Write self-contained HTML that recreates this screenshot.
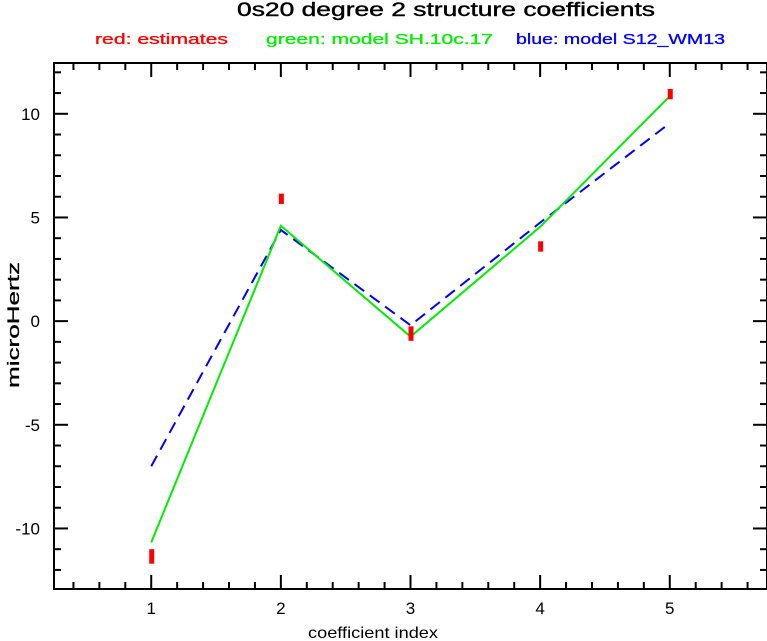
<!DOCTYPE html>
<html><head><meta charset="utf-8"><style>
body{margin:0;background:#fff;}
svg{display:block;font-family:"Liberation Sans",sans-serif;}
</style></head><body>
<svg id="chart" width="767" height="641">
<text x="237" y="16" font-size="19" textLength="418" lengthAdjust="spacingAndGlyphs" font-family="Liberation Sans, sans-serif" stroke="#000" stroke-width="0.4">0s20 degree 2 structure coefficients</text>
<text x="95" y="44" font-size="15" fill="#ff0000" textLength="133" lengthAdjust="spacingAndGlyphs" stroke="#ff0000" stroke-width="0.3">red: estimates</text>
<text x="266" y="44" font-size="15" fill="#00ee00" textLength="227" lengthAdjust="spacingAndGlyphs" stroke="#00ee00" stroke-width="0.3">green: model SH.10c.17</text>
<text x="516" y="44" font-size="15" fill="#0000ff" textLength="209" lengthAdjust="spacingAndGlyphs" stroke="#0000ff" stroke-width="0.3">blue: model S12_WM13</text>
<text x="308" y="638" font-size="16" textLength="130" lengthAdjust="spacingAndGlyphs">coefficient index</text>
<text transform="translate(19,388) rotate(-90)" font-size="17" textLength="126" lengthAdjust="spacingAndGlyphs" stroke="#000" stroke-width="0.3">microHertz</text>
<g id="axes"></g>
<g id="series"></g>
<rect x="54" y="63" width="713" height="526" fill="none" stroke="#000" stroke-width="2"/>
</svg>
<script>
const categories=[1,2,3,4,5];
const estimates=[-11.35,5.9,-0.6,3.6,10.95];
const estErr=[0.35,0.25,0.35,0.25,0.25];
const greenModel=[-10.67,4.6,-0.75,4.55,10.85];
const blueModel=[-7.0,4.4,-0.2,4.75,9.55];
const yTicks=[-10,-5,0,5,10];
const xTicks=[1,2,3,4,5];
const X0=54,X1=767,Y0=63,Y1=589,xmin=0.25,xmax=5.75,ymin=-12.92,ymax=12.45;
const sx=v=>X0+(v-xmin)/(xmax-xmin)*(X1-X0);
const sy=v=>Y1-(v-ymin)/(ymax-ymin)*(Y1-Y0);
const NS='http://www.w3.org/2000/svg';
const ax=document.getElementById('axes'),se=document.getElementById('series');
function mk(t,a,p){const e=document.createElementNS(NS,t);for(const k in a)e.setAttribute(k,a[k]);p.appendChild(e);return e;}
for(let v=Math.ceil(ymin);v<=ymax;v++){const y=sy(v);const L=v%5===0?14:7;
const t1=mk('line',{x1:X0,x2:X0+L,y1:y,y2:y,stroke:'#000','stroke-width':2},ax);


const t2=mk('line',{x1:X1,x2:X1-L,y1:y,y2:y,stroke:'#000','stroke-width':2},ax);

}
for(let i=Math.ceil(xmin*5);i<=xmax*5;i++){const v=i/5,x=sx(v);const L=i%5===0?14:7;
const t1=mk('line',{x1:x,x2:x,y1:Y1,y2:Y1-L,stroke:'#000','stroke-width':2},ax);


const t2=mk('line',{x1:x,x2:x,y1:Y0,y2:Y0+L,stroke:'#000','stroke-width':2},ax);

}
yTicks.forEach(v=>{const t=mk('text',{x:40,y:sy(v)+6,'font-size':17,'text-anchor':'end'},ax);t.textContent=v;

});
xTicks.forEach(v=>{const t=mk('text',{x:sx(v),y:614,'font-size':17,'text-anchor':'middle'},ax);t.textContent=v;

});
const pts=a=>a.map((v,i)=>sx(categories[i])+','+sy(v)).join(' ');
const b=mk('polyline',{points:pts(blueModel),fill:'none',stroke:'#0000ff','stroke-width':2,'stroke-dasharray':'12,7'},se);


const g=mk('polyline',{points:pts(greenModel),fill:'none',stroke:'#00ee00','stroke-width':2},se);


estimates.forEach((v,i)=>{const x=sx(categories[i]),y1=sy(v+estErr[i]),y2=sy(v-estErr[i]);
const r=mk('rect',{x:x-2,y:y1,width:5,height:Math.max(4,y2-y1),fill:'#ff0000'},se);

});
</script>
</body></html>
